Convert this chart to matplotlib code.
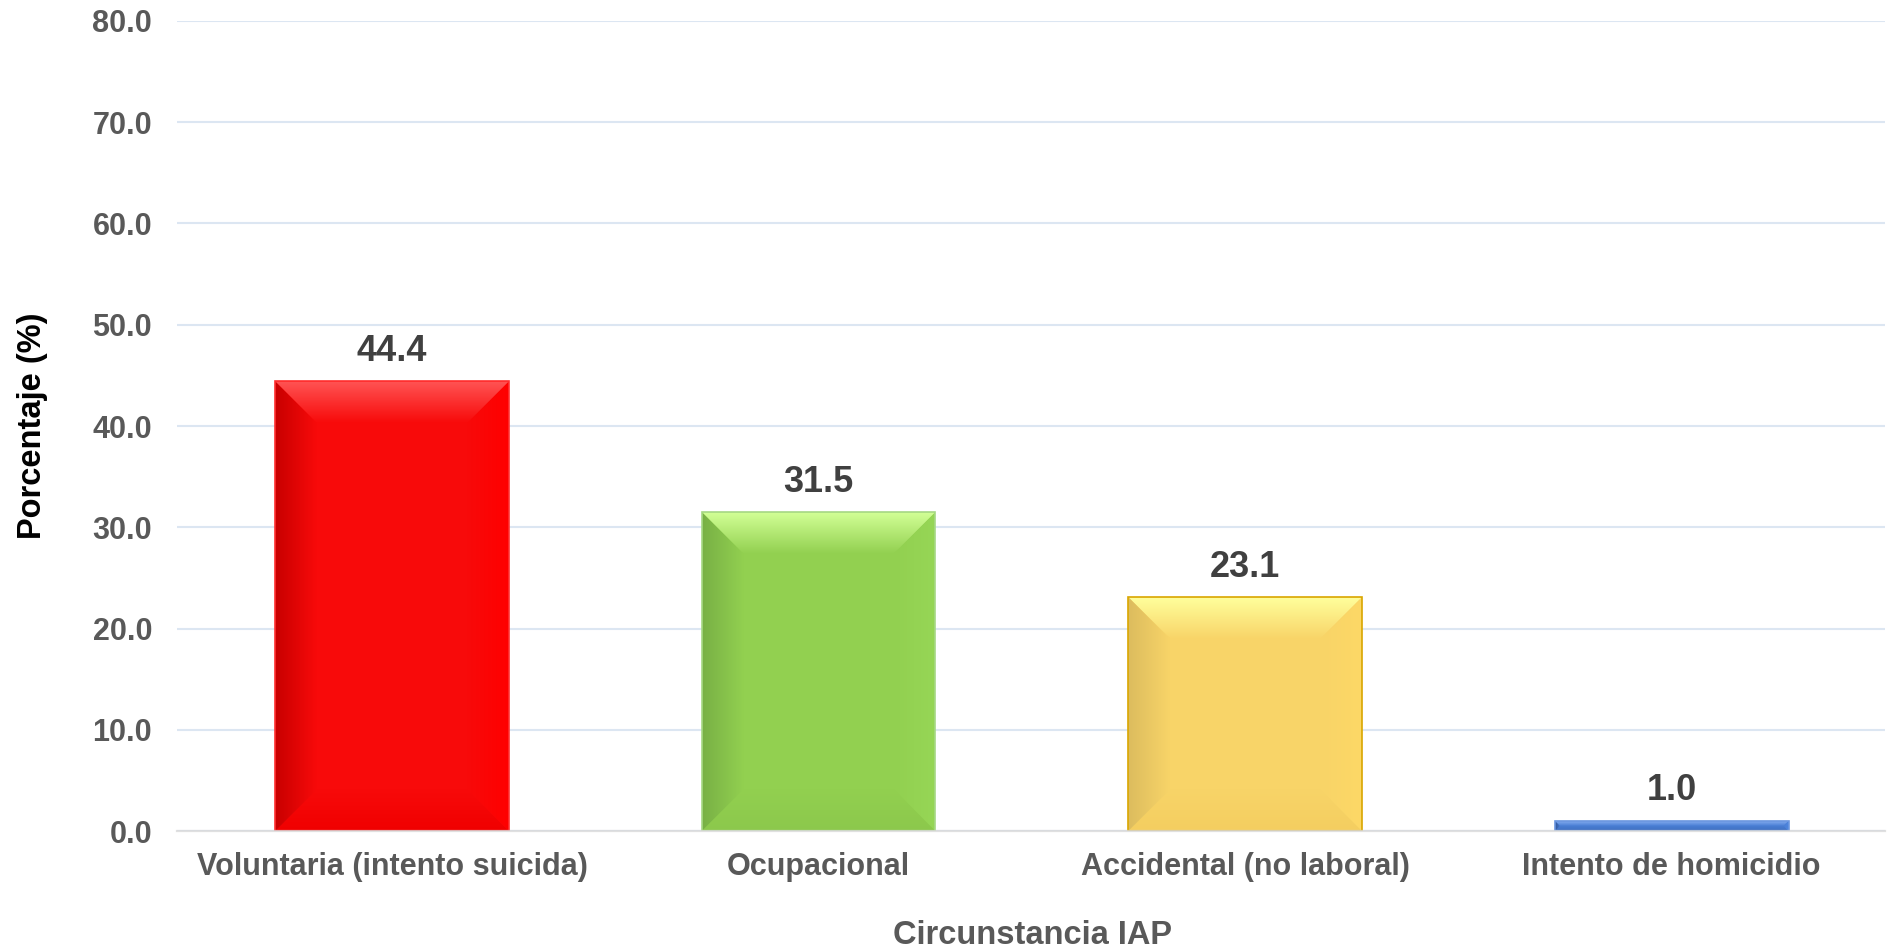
import matplotlib
matplotlib.use("Agg")
import numpy as np
import matplotlib.pyplot as plt
from matplotlib.patches import Polygon
from matplotlib.colors import to_rgb

categories = ["Voluntaria (intento suicida)", "Ocupacional", "Accidental (no laboral)", "Intento de homicidio"]
values = [44.4, 31.5, 23.1, 1.0]
y_ticks = [0, 10, 20, 30, 40, 50, 60, 70, 80]

# base, top highlight, left shade, right edge, bottom, outline
bar_styles = [
    ("#F80A0A", "#FF5555", "#C80000", "#FF0000", "#F00000", "#FF3030"),
    ("#92D050", "#D2FF96", "#78B045", "#96D656", "#8CC84C", "#A6D884"),
    ("#F8D468", "#FFFF9C", "#DCBC5E", "#FDD866", "#F4CE60", "#D9A600"),
    ("#4A7FD6", "#8DB3F2", "#2F5597", "#5088E0", "#4070C0", "#6A96E0"),
]

BEVEL_PX = 42


def gradient_fill(ax, verts_px, c_from, c_to, direction):
    """Fill a polygon (display coords) with a linear gradient."""
    inv = ax.transData.inverted()
    verts = inv.transform(verts_px)
    poly = Polygon(verts, closed=True, facecolor="none", edgecolor="none", zorder=3)
    ax.add_patch(poly)
    c0 = np.array(to_rgb(c_from))
    c1 = np.array(to_rgb(c_to))
    t = np.linspace(0, 1, 64)
    grad = c0[None, :] * (1 - t[:, None]) + c1[None, :] * t[:, None]
    if direction == "down":
        img = grad[:, None, :]
    else:
        img = grad[None, :, :]
    xs, ys = verts[:, 0], verts[:, 1]
    im = ax.imshow(img, extent=(xs.min(), xs.max(), ys.min(), ys.max()),
                   origin="upper", aspect="auto", zorder=3, interpolation="bilinear")
    im.set_clip_path(poly)


def add_bevel(ax, rect, style):
    base, top, left, right, bottom, edge = style
    x0, y0 = ax.transData.transform((rect.get_x(), rect.get_y()))
    x1, y1 = ax.transData.transform((rect.get_x() + rect.get_width(), rect.get_y() + rect.get_height()))
    b = min(BEVEL_PX, (y1 - y0) / 2, (x1 - x0) / 2)
    gradient_fill(ax, [(x0, y1), (x1, y1), (x1 - b, y1 - b), (x0 + b, y1 - b)], top, base, "down")
    gradient_fill(ax, [(x0, y0), (x1, y0), (x1 - b, y0 + b), (x0 + b, y0 + b)], base, bottom, "down")
    gradient_fill(ax, [(x0, y0), (x0, y1), (x0 + b, y1 - b), (x0 + b, y0 + b)], left, base, "right")
    gradient_fill(ax, [(x1, y0), (x1, y1), (x1 - b, y1 - b), (x1 - b, y0 + b)], base, right, "right")
    ax.add_patch(Polygon(ax.transData.inverted().transform(
        [(x0, y0), (x0, y1), (x1, y1), (x1, y0)]), closed=True,
        facecolor="none", edgecolor=edge, linewidth=1.2, zorder=4))


plt.rcParams["font.family"] = ["Liberation Sans", "DejaVu Sans"]

fig = plt.figure(figsize=(18.92, 9.49), dpi=100)
ax = fig.add_axes([0.0936, 0.1243, 0.9027, 0.8536])

x = np.arange(len(categories))
ax.set_xlim(-0.504, 3.50)
ax.set_ylim(0, 80)

bars = ax.bar(x, values, width=0.548, zorder=2, linewidth=0,
              color=[s[0] for s in bar_styles])
for rect, style in zip(bars, bar_styles):
    add_bevel(ax, rect, style)

ax.set_xlim(-0.504, 3.50)
ax.set_ylim(0, 80)

for xi, v in zip(x, values):
    ax.annotate(f"{v:.1f}", (xi, v), xytext=(0, 9), textcoords="offset points",
                ha="center", va="bottom", fontsize=26, fontweight="bold", color="#404040", zorder=5)

ax.set_yticks(y_ticks)
ax.set_yticklabels([f"{t:.1f}" for t in y_ticks])
ax.set_xticks(x)
ax.set_xticklabels(categories)
ax.tick_params(axis="both", length=0, labelsize=22, labelcolor="#595959")
for lbl in ax.get_xticklabels() + ax.get_yticklabels():
    lbl.set_fontweight("bold")
ax.tick_params(axis="y", pad=18)
ax.tick_params(axis="x", pad=15)

ax.yaxis.grid(True, color="#DCE6F2", linewidth=1.5, zorder=0)
ax.set_axisbelow(True)
for side in ["top", "right", "left"]:
    ax.spines[side].set_visible(False)
ax.spines["bottom"].set_color("#D9D9D9")
ax.spines["bottom"].set_linewidth(1.6)
ax.spines["bottom"].set_zorder(6)
ax.spines["bottom"].set_alpha(0.8)

ax.set_ylabel("Porcentaje (%)", fontsize=23.5, fontweight="bold", color="black")
ax.yaxis.set_label_coords(-0.0755, 0.5)
ax.set_xlabel("Circunstancia IAP", fontsize=23.5, fontweight="bold", color="#595959")
ax.xaxis.set_label_coords(0.5006, -0.11)

fig.savefig("out.png", dpi=100)
